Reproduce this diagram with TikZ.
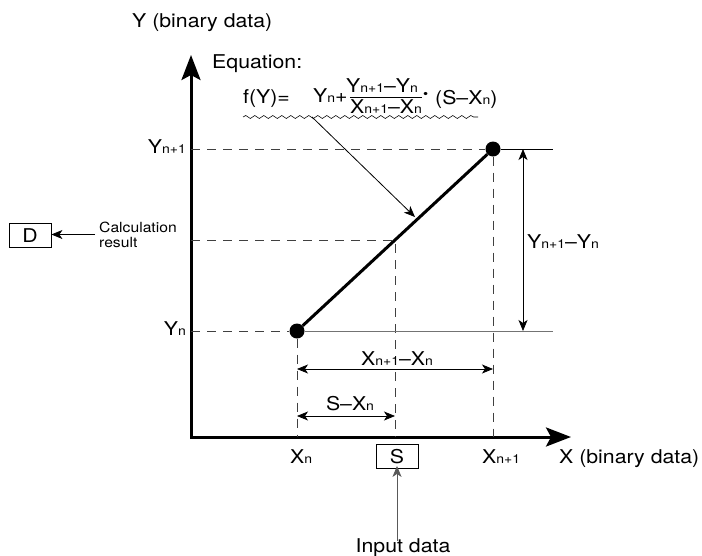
\documentclass[tikz,border=0pt]{standalone}
\usepackage{amsmath}
\usepackage{fontspec}
\setmainfont{TeX Gyre Heros}[FakeStretch=1.12]
\usetikzlibrary{arrows.meta,positioning,calc,decorations.pathmorphing}

\newcommand{\ix}[1]{{\fontsize{12.5}{14}\selectfont #1}}

\begin{document}
\begin{tikzpicture}[x=1pt, y=-1pt,
    every node/.style={font=\fontsize{19}{22}\selectfont, inner sep=0pt},
    lbl/.style={anchor=base west},
    axisline/.style={line width=3pt, {Stealth[length=25pt, width=19pt, inset=5pt]}-{Stealth[length=25pt, width=19pt, inset=5pt]}},
    guide/.style={black!75, line width=0.8pt, dash pattern=on 9pt off 7pt},
    dim/.style={line width=0.8pt, {Stealth[length=11pt, width=9pt, inset=3pt]}-{Stealth[length=11pt, width=9pt, inset=3pt]}},
    ptr/.style={line width=0.8pt, -{Stealth[length=11pt, width=9pt, inset=3pt]}},
    databox/.style={draw, line width=0.8pt, minimum width=42pt, minimum height=24pt},
    dot/.style={circle, fill, minimum size=15pt}]
    \useasboundingbox (0,0) rectangle (702,555);

    % Axes
    \coordinate (O) at (191,437);
    \coordinate (ytip) at (191,55);
    \coordinate (xtip) at (571,437);
    \draw[axisline] (ytip) -- (O) -- (xtip);
    \node[lbl] (yname) at (132,27) {Y (binary data)};
    \node[lbl] (xname) at (559,463) {X (binary data)};

    % Points on the axes
    \coordinate (ayn1) at (191,149);
    \coordinate (aym) at (191,240);
    \coordinate (ayn) at (191,331);
    \coordinate (axn) at (297,437);
    \coordinate (axs) at (395,437);
    \coordinate (axn1) at (493,437);
    \coordinate (mid) at (395,240);
    \coordinate (ryn1) at (553,149);
    \coordinate (ryn) at (553,331);

    % Interpolation line
    \node[dot] (pn) at (297,331) {};
    \node[dot] (pn1) at (493,149) {};
    \draw[line width=3pt] (pn) -- (pn1);

    % Guides
    \draw[guide] (ayn1) -- (pn1);
    \draw[guide] (pn1) -- (axn1);
    \draw[guide] (ayn) -- (pn);
    \draw[guide] (pn) -- (axn);
    \draw[guide] (aym) -- (mid) -- (axs);
    \draw[line width=0.8pt] (pn1) -- (ryn1);
    \draw[black!55, line width=1pt] (pn) -- (ryn);

    \node[anchor=base east] (lyn1) at (186,153) {Y\ix{n+1}};
    \node[anchor=base east] (lyn) at (186,335) {Y\ix{n}};
    \node[lbl] (lxn) at (290,463) {X\ix{n}};
    \node[lbl] (lxn1) at (482,463) {X\ix{n+1}};

    % Dimensions
    \coordinate (dy1) at (523,149);
    \coordinate (dy2) at (523,331);
    \coordinate (dxa) at (297,369);
    \coordinate (dxb) at (493,369);
    \coordinate (dsa) at (297,416);
    \coordinate (dsb) at (395,416);
    \draw[dim] (dy1) -- (dy2);
    \draw[dim] (dxa) -- (dxb);
    \draw[dim] (dsa) -- (dsb);
    \node[lbl] (ldy) at (527,248) {Y\ix{n+1}–Y\ix{n}};
    \node[anchor=base] (ldx) at (397,365) {X\ix{n+1}–X\ix{n}};
    \node[anchor=base] (lds) at (350,410) {S–X\ix{n}};

    % Equation
    \node[lbl] (eqn) at (212,68) {Equation:};
    \node[lbl] (fy) at (243,103) {f(Y)=};
    \node[lbl] (eqa) at (313,102) {Y\ix{n}+};
    \node[anchor=base] (num) at (382,92) {Y\ix{n+1}–Y\ix{n}};
    \node[anchor=base] (den) at (386,113) {X\ix{n+1}–X\ix{n}};
    \draw[line width=1pt] ($(den.north west)+(0,-1.5)$) -- ($(den.north east)+(0,-1.5)$);
    \node[lbl, font=\fontsize{13}{13}\selectfont] (cdot) at (423,98) {•};
    \node[lbl] (eqb) at (435,104) {(S–X\ix{n})};
    \coordinate (wa) at (243,117);
    \coordinate (wb) at (478,117);
    \coordinate (wp) at (312,117);
    \coordinate (wt) at (415,217);
    \draw[decorate, decoration={snake, amplitude=1.5pt, segment length=9pt}, line width=0.6pt] (wa) -- (wb);
    \draw[ptr] (wp) -- (wt);

    % Calculation result
    \node[databox] (D) at (30,235.5) {D};
    \node[anchor=west, align=left, font=\fontsize{14}{15}\selectfont] (calc) at (99,234.5) {Calculation\\result};
    \draw[ptr] ([xshift=-4pt]calc.west) -- (calc.west -| D.east);

    % Input data
    \node[databox] (S) at (397,456.5) {S};
    \node[anchor=base] (inp) at (403,552) {Input data};
    \draw[ptr, black!65] ([yshift=-3pt]S.south |- inp.north) -- ([yshift=3pt]S.south);
\end{tikzpicture}
\end{document}
